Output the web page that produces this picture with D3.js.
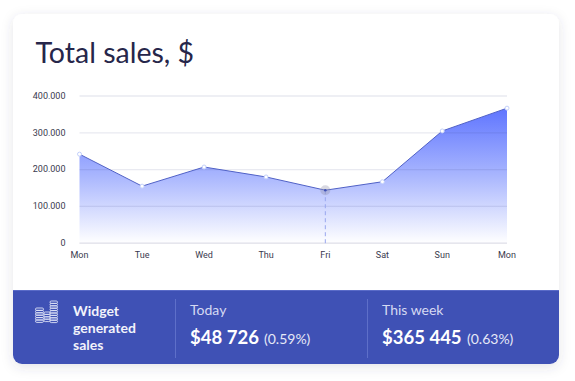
<!DOCTYPE html>
<html>
<head>
<meta charset="utf-8">
<script src="https://cdn.jsdelivr.net/npm/d3@7"></script>
<style>
  html, body { margin: 0; padding: 0; background: #fff; overflow: hidden; }
  svg { display: block; }
  .tick text { font-family: Roboto, sans-serif; font-size: 9px; fill: #3a3a4e; }
</style>
</head>
<body>
<div id="chart"></div>
<script>
// values
const days = ['Mon', 'Tue', 'Wed', 'Thu', 'Fri', 'Sat', 'Sun', 'Mon']
// the points are not evenly spaced in the picture, so time is kept in fractional days
const dayOffsets = [0, 1.025, 2.04, 3.055, 4.025, 4.96, 5.94, 7]
const sales = [242000, 155000, 207000, 180000, 144000, 167000, 305000, 367000]
const yTicks = [0, 100000, 200000, 300000, 400000]
const yTickLabels = ['0', '100.000', '200.000', '300.000', '400.000']
const selectedDay = 4

const width = 575
const height = 381

let svg = d3.select('#chart').append('svg')
  .attr('width', width)
  .attr('height', height)

let defs = svg.append('defs')

let shadow = defs.append('filter')
  .attr('id', 'cardShadow')
  .attr('x', '-10%').attr('y', '-10%')
  .attr('width', '120%').attr('height', '125%')
shadow.append('feDropShadow')
  .attr('dx', 0).attr('dy', 3)
  .attr('stdDeviation', 6)
  .attr('flood-color', '#3a3a5a')
  .attr('flood-opacity', 0.14)

let x = d3.scaleLinear().domain([0, 7]).range([79.5, 507])
let y = d3.scaleLinear().domain([0, 400000]).range([243.2, 96])

let grad = defs.append('linearGradient')
  .attr('id', 'areaFill')
  .attr('gradientUnits', 'userSpaceOnUse')
  .attr('x1', 0).attr('x2', 0)
  .attr('y1', y(367000)).attr('y2', y(0))
grad.append('stop').attr('offset', 0).attr('stop-color', '#5f75ff')
grad.append('stop').attr('offset', 0.5).attr('stop-color', '#a9b6fe')
grad.append('stop').attr('offset', 1).attr('stop-color', '#ffffff')

defs.append('clipPath').attr('id', 'footerClip')
  .append('rect')
  .attr('x', 13).attr('y', 14).attr('width', 546).attr('height', 350).attr('rx', 9)

// card
svg.append('rect')
  .attr('x', 13).attr('y', 14)
  .attr('width', 546).attr('height', 350)
  .attr('rx', 9)
  .attr('fill', '#fff')
  .attr('filter', 'url(#cardShadow)')

svg.append('text')
  .attr('x', 35.5).attr('y', 63)
  .attr('font-family', 'Lato, sans-serif')
  .attr('font-size', 28.5)
  .attr('font-weight', 400)
  .attr('fill', '#26264a')
  .text('Total sales, $')

// area goes under the grid
let area = d3.area()
  .x((d, i) => x(dayOffsets[i]))
  .y0(y(0))
  .y1(d => y(d))

svg.append('path')
  .datum(sales)
  .attr('d', area)
  .attr('fill', 'url(#areaFill)')

let yAxis = d3.axisLeft(y)
  .tickValues(yTicks)
  .tickFormat((d, i) => yTickLabels[i])
  .tickSize(-(x(7) - x(0)))
  .tickPadding(14)
  .offset(0)

let yG = svg.append('g')
  .attr('transform', `translate(${x(0)},0)`)
  .call(yAxis)
yG.select('.domain').remove()
yG.selectAll('.tick line')
  .attr('stroke', '#3a3f80')
  .attr('stroke-opacity', 0.11)
  .attr('stroke-width', 1.3)
yG.selectAll('.tick text').attr('x', -14)

let xAxis = d3.axisBottom(x)
  .tickValues(dayOffsets)
  .tickFormat((d, i) => days[i])
  .tickSize(0)
  .tickPadding(8)
  .offset(0)

let xG = svg.append('g')
  .attr('transform', `translate(0,${y(0)})`)
  .call(xAxis)
xG.select('.domain').attr('stroke', '#e2e2ea')

let line = d3.line()
  .x((d, i) => x(dayOffsets[i]))
  .y(d => y(d))

svg.append('path')
  .datum(sales)
  .attr('d', line)
  .attr('fill', 'none')
  .attr('stroke', '#5061c6')
  .attr('stroke-width', 1)

// hovered day
svg.append('line')
  .attr('x1', x(dayOffsets[selectedDay])).attr('x2', x(dayOffsets[selectedDay]))
  .attr('y1', y(sales[selectedDay])).attr('y2', y(0))
  .attr('stroke', '#98a6ee')
  .attr('stroke-width', 1)
  .attr('stroke-dasharray', '4 3')

svg.append('g')
  .selectAll('circle')
  .data(sales)
  .join('circle')
  .attr('cx', (d, i) => x(dayOffsets[i]))
  .attr('cy', d => y(d))
  .attr('r', (d, i) => i === selectedDay ? 5 : 2)
  .attr('fill', (d, i) => i === selectedDay ? '#8f8fa8' : '#fff')
  .attr('fill-opacity', (d, i) => i === selectedDay ? 0.35 : 1)
  .attr('stroke', (d, i) => i === selectedDay ? 'none' : '#c3d0fb')
  .attr('stroke-width', 1)

svg.append('circle')
  .attr('cx', x(dayOffsets[selectedDay]))
  .attr('cy', y(sales[selectedDay]))
  .attr('r', 1.3)
  .attr('fill', '#3f51b5')

// footer band
let footer = svg.append('g').attr('clip-path', 'url(#footerClip)')
footer.append('rect')
  .attr('x', 13).attr('y', 290)
  .attr('width', 546).attr('height', 74)
  .attr('fill', '#3f51b5')
footer.append('rect')
  .attr('x', 13).attr('y', 290)
  .attr('width', 546).attr('height', 1)
  .attr('fill', '#5a6bc8')

svg.selectAll('.sep')
  .data([175.5, 367.5])
  .join('line')
  .attr('class', 'sep')
  .attr('x1', d => d).attr('x2', d => d)
  .attr('y1', 299).attr('y2', 358)
  .attr('stroke', '#5e6fc9')
  .attr('stroke-width', 1)

// coin stacks icon
let coins = svg.append('g')
  .attr('fill', 'none')
  .attr('stroke', '#dfe3f7')
  .attr('stroke-width', 0.9)
;[[35.5, 8, 308, 6], [44, 6, 312, 4], [50, 7.5, 301, 9]].forEach(s => {
  d3.range(s[3]).forEach(i => {
    coins.append('rect')
      .attr('x', s[0]).attr('y', s[2] + i * 2.4)
      .attr('width', s[1]).attr('height', 2.4)
      .attr('rx', 1.2)
  })
})

function addText(tx, ty, str, size, weight, color) {
  svg.append('text')
    .attr('x', tx).attr('y', ty)
    .attr('font-family', 'Lato, sans-serif')
    .attr('font-size', size)
    .attr('font-weight', weight)
    .attr('fill', color)
    .text(str)
}

addText(73, 315.5, 'Widget', 14, 700, '#f2f3fb')
addText(73, 332.5, 'generated', 14, 700, '#f2f3fb')
addText(73, 349.5, 'sales', 14, 700, '#f2f3fb')

addText(190, 315, 'Today', 14, 400, '#d5d9f2')
addText(190, 344, '$48 726', 18.5, 700, '#fff')
addText(264, 344, '(0.59%)', 14, 400, '#e6e8f7')

addText(382, 315, 'This week', 14, 400, '#d5d9f2')
addText(382, 344, '$365 445', 18.5, 700, '#fff')
addText(467, 344, '(0.63%)', 14, 400, '#e6e8f7')
</script>
</body>
</html>
